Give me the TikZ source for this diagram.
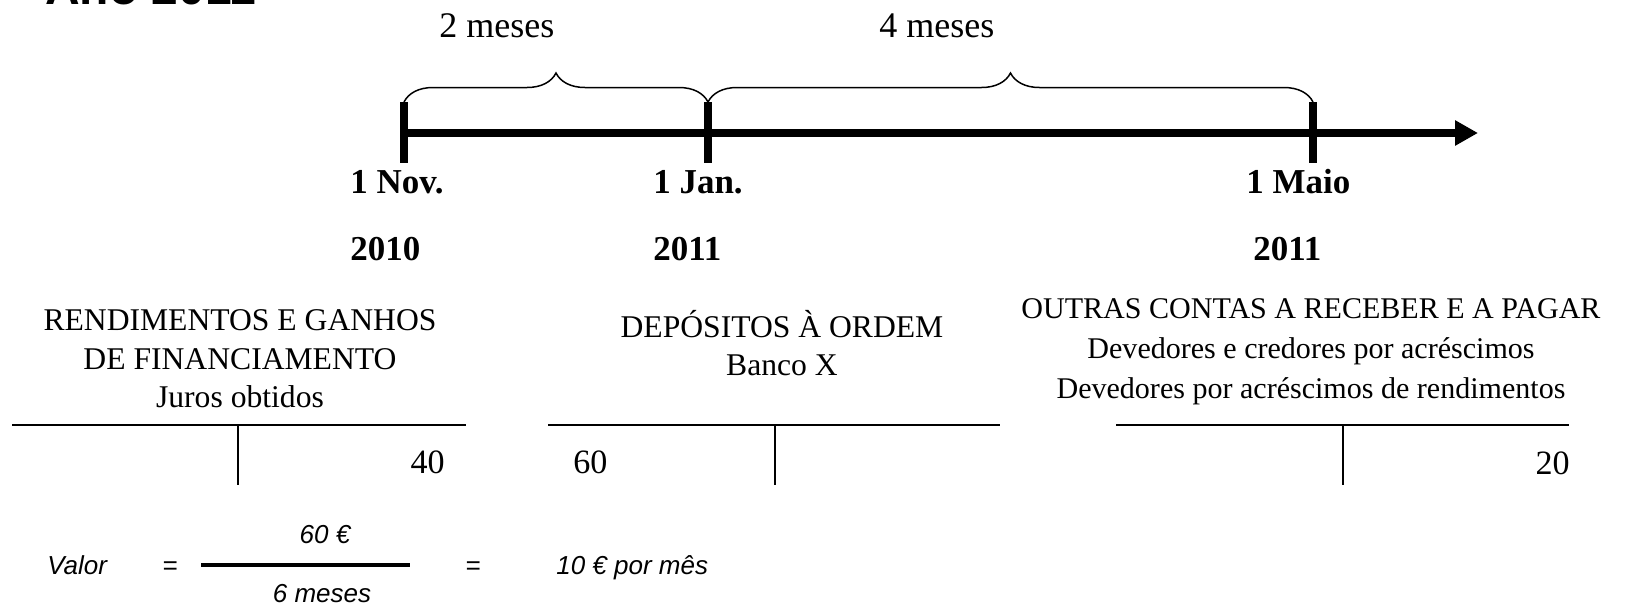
\documentclass[tikz,border=0pt]{standalone}
\usepackage{fontspec}
\setmainfont{Liberation Serif}
\setsansfont{Liberation Sans}
\usepackage{tikz}
\usetikzlibrary{arrows.meta,decorations.pathreplacing}
\newcommand{\acctfont}{\fontsize{18pt}{21pt}\selectfont}
\newcommand{\acctsmall}{\fontsize{17.1pt}{20pt}\selectfont}
\newcommand{\datefont}{\fontsize{19.9pt}{24pt}\selectfont\bfseries}
\newcommand{\spanfont}{\fontsize{20.5pt}{24pt}\selectfont}
\newcommand{\amtfont}{\fontsize{19.4pt}{23pt}\selectfont}
\newcommand{\calcfont}{\fontsize{14.8pt}{18pt}\selectfont\sffamily\itshape}
\newcommand{\headfont}{\fontsize{27.3pt}{32pt}\selectfont\sffamily\bfseries}
\tikzset{
  axis/.style={-{Triangle[length=4.6mm,width=4.8mm]}, line width=4pt},
  tickmark/.style={line width=4pt},
  brc/.style={decorate, decoration={brace, amplitude=5.8mm}, line width=0.85pt},
  tline/.style={line width=1pt},
  acct/.style={font=\acctfont, inner sep=0pt, anchor=base},
  date/.style={font=\datefont, inner sep=0pt, anchor=base west},
  span/.style={font=\spanfont, inner sep=0pt, anchor=base west},
  amt/.style={font=\amtfont, inner sep=0pt},
  calc/.style={font=\calcfont, inner sep=0pt},
}

\begin{document}
\begin{tikzpicture}[x=0.02cm, y=-0.02cm]
\useasboundingbox (0,0) rectangle (1651,606);
\clip (0,0) rectangle (1651,606);

% heading, cut by the top edge
\node[font=\headfont, inner sep=0pt, anchor=base west] (head) at (45,4) {Ano 2011};

% ---------- the time line ------------------------------------------------
\foreach \n/\x in {nov/404,jan/708,mai/1313}{
  \coordinate (\n-top) at (\x,102);
  \coordinate (\n-bot) at (\x,163);
  \draw[tickmark] (\n-top) -- (\n-bot);}
\coordinate (t0) at (404,133);
\coordinate (tend) at (1478,133);
\draw[axis] (t0) -- (tend);

\draw[brc] (nov-top) -- (jan-top);
\draw[brc] (jan-top) -- (mai-top);
\node[span] (two) at (439,37) {2 meses};
\node[span] (four) at (879,37) {4 meses};

\node[date] (novd) at (350,193) {1 Nov.};
\node[date] (novy) at (350,260) {2010};
\node[date] (jand) at (653,193) {1 Jan.};
\node[date] (jany) at (653,260) {2011};
\node[date] (maid) at (1246,193) {1 Maio};
\node[date] (maiy) at (1253,260) {2011};

% ---------- the three accounts -------------------------------------------
\node[acct] (rgA) at (240,330) {RENDIMENTOS E GANHOS};
\node[acct] (rgB) at (240,369) {DE FINANCIAMENTO};
\node[acct] (rgC) at (240,407) {Juros obtidos};
\node[acct] (dpA) at (782,337) {DEPÓSITOS À ORDEM};
\node[acct] (dpB) at (782,375) {Banco X};
\node[acct, font=\acctsmall] (ocA) at (1311,318) {OUTRAS CONTAS A RECEBER E A PAGAR};
\node[acct, font=\acctsmall] (ocB) at (1311,358) {Devedores e credores por acréscimos};
\node[acct, font=\acctsmall] (ocC) at (1311,398) {Devedores por acréscimos de rendimentos};

\foreach \n/\l/\m/\r in {rg/12/238/466,dp/548/775/1000,oc/1116/1343/1569}{
  \coordinate (\n-L) at (\l,425);
  \coordinate (\n-R) at (\r,425);
  \coordinate (\n-M) at (\m,425);
  \coordinate (\n-D) at (\m,485);
  \draw[tline] (\n-L) -- (\n-R);
  \draw[tline] (\n-M) -- (\n-D);}

\node[amt, anchor=base east] (rgV) at (445,473) {40};
\node[amt, anchor=base west] (dpV) at (573,473) {60};
\node[amt, anchor=base east] (ocV) at (1570,474) {20};

% ---------- value per month ----------------------------------------------
\node[calc, anchor=base west] (val) at (47,574) {Valor};
\node[calc, anchor=base] (eq1) at (170,574) {=};
\coordinate (barL) at (201,565);
\coordinate (barR) at (410,565);
\draw[line width=2pt] (barL) -- (barR);
\node[calc, anchor=base] (num) at (325,543) {60 €};
\node[calc, anchor=base] (den) at (322,602) {6 meses};
\node[calc, anchor=base] (eq2) at (473,574) {=};
\node[calc, anchor=base west] (res) at (556,574) {10 € por mês};
\end{tikzpicture}
\end{document}
